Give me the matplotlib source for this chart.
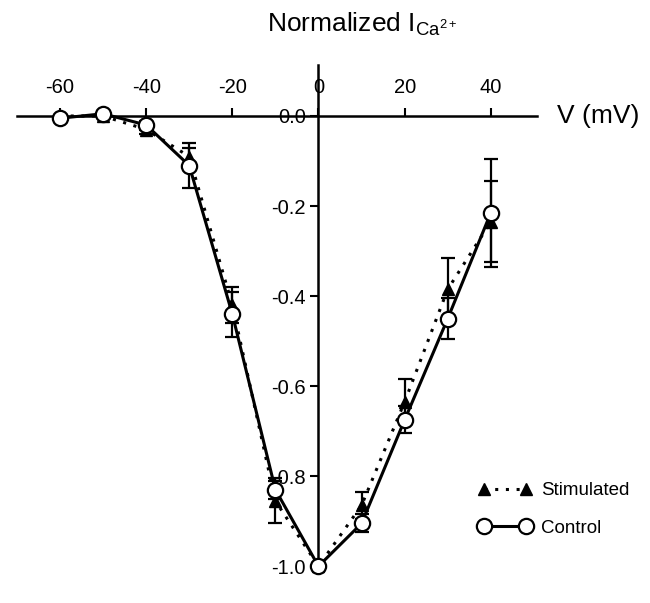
import matplotlib
matplotlib.use("Agg")
import matplotlib.pyplot as plt

plt.rcParams['font.family'] = ['Liberation Sans', 'DejaVu Sans']
plt.rcParams['mathtext.fontset'] = 'custom'
plt.rcParams['mathtext.rm'] = 'Liberation Sans'
plt.rcParams['mathtext.it'] = 'Liberation Sans'

voltage = [-60, -50, -40, -30, -20, -10, 0, 10, 20, 30, 40]
control = [-0.005, 0.005, -0.02, -0.11, -0.44, -0.83, -1.0, -0.905, -0.675, -0.45, -0.215]
control_err = [0.0, 0.0, 0.01, 0.05, 0.05, 0.02, 0.0, 0.02, 0.03, 0.045, 0.12]
stimulated = [0.0, 0.0, -0.03, -0.09, -0.42, -0.855, -1.0, -0.865, -0.635, -0.385, -0.235]
stimulated_err = [0.0, 0.0, 0.01, 0.02, 0.04, 0.05, 0.0, 0.03, 0.05, 0.07, 0.09]
x_ticks = [-60, -40, -20, 0, 20, 40]
y_ticks = [0.0, -0.2, -0.4, -0.6, -0.8, -1.0]
y_ticklabels = ['0.0', '-0.2', '-0.4', '-0.6', '-0.8', '-1.0']

fig = plt.figure(figsize=(6.5, 6.03), dpi=100)
ax = fig.add_axes([0.026, 0.061, 0.80, 0.831])
ax.set_xlim(-70, 50.7)
ax.set_ylim(-1.0, 0.113)

for s in ['top', 'right']:
    ax.spines[s].set_visible(False)
ax.spines['left'].set_position(('data', 0))
ax.spines['bottom'].set_position(('data', 0))
for s in ['left', 'bottom']:
    ax.spines[s].set_linewidth(1.8)

ax.set_xticks(x_ticks)
ax.tick_params(axis='x', direction='in', length=6, width=1.5,
               labelbottom=False, labeltop=False, top=False, bottom=True)
for v in x_ticks:
    ax.annotate(str(v), xy=(v, 0), xycoords='data', xytext=(0, 14),
                textcoords='offset points', ha='center', va='bottom', fontsize=14.5)

ax.set_yticks(y_ticks)
ax.set_yticklabels(y_ticklabels)
ax.tick_params(axis='y', direction='out', length=6, width=1.5, labelsize=14.5, pad=3)

ax.errorbar(voltage, stimulated, yerr=stimulated_err, fmt='none', ecolor='black',
            elinewidth=1.6, capsize=5, capthick=1.6, zorder=3, clip_on=False)
ax.errorbar(voltage, control, yerr=control_err, fmt='none', ecolor='black',
            elinewidth=1.6, capsize=5, capthick=1.6, zorder=3, clip_on=False)
ax.plot(voltage, stimulated, linestyle=(0, (1, 2.5)), linewidth=2.2, color='black',
        marker='^', markersize=9, markerfacecolor='black', markeredgecolor='black',
        label='Stimulated', zorder=4, clip_on=False)
ax.plot(voltage, control, linestyle='-', linewidth=2.2, color='black',
        marker='o', markersize=11, markerfacecolor='white', markeredgecolor='black',
        markeredgewidth=1.6, label='Control', zorder=5, clip_on=False)

leg = fig.legend(loc='center left', bbox_to_anchor=(0.725, 0.155), frameon=False,
                 fontsize=13.5, numpoints=2, handlelength=2.8, handletextpad=0.5,
                 labelspacing=1.1, borderaxespad=0)

fig.text(0.557, 0.96, r'Normalized I$_{\mathrm{Ca}^{2+}}$', ha='center', va='center', fontsize=19)
fig.text(0.92, 0.807, 'V (mV)', ha='center', va='center', fontsize=19)

fig.savefig('out.png', dpi=100)
